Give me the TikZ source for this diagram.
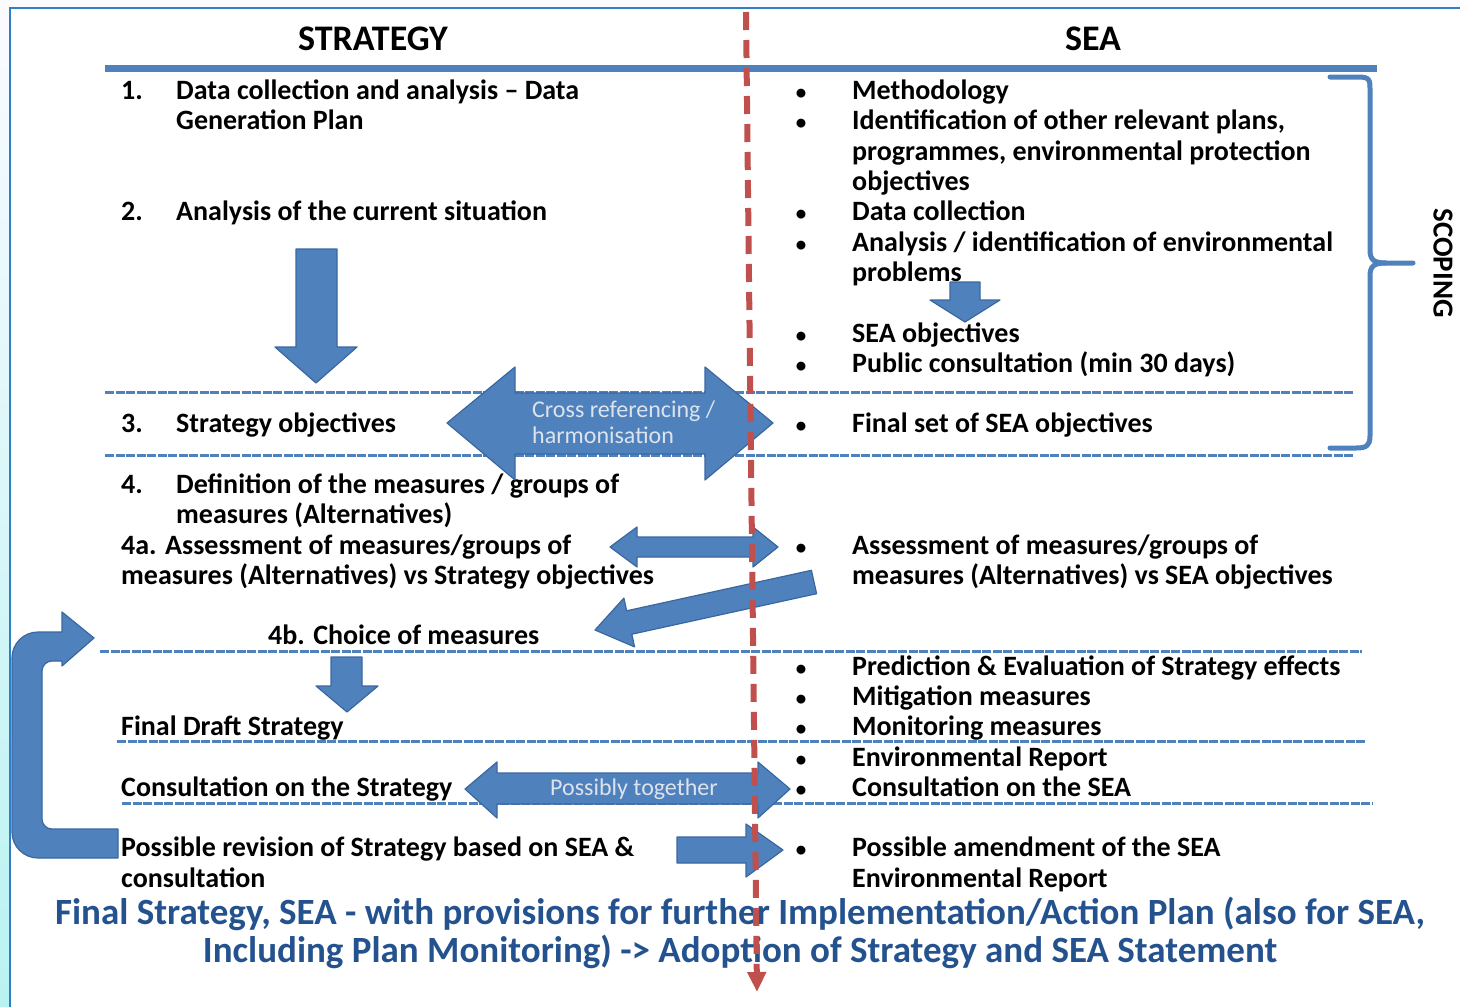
\documentclass[tikz,border=0pt]{standalone}
\usepackage{fontspec}
\setmainfont{Carlito}
\usetikzlibrary{arrows.meta}
\definecolor{sblue}{HTML}{4F81BD}
\definecolor{sbluedk}{HTML}{3A67A0}
\definecolor{sred}{HTML}{C0504D}
\definecolor{frameblue}{HTML}{2F7FC8}
\definecolor{navy}{HTML}{24528F}
\definecolor{arrowtxt}{HTML}{DCE3ED}
\newcommand\lineat[4]{\node[body] (#1) at (#2,#3) {#4};}
\newcommand\bulat[2]{\node[bul] (#1) at (801,#2) {•};}
\begin{document}
\begin{tikzpicture}[x=1pt,y=-1pt,
  body/.style={anchor=base west, inner sep=0pt, font=\fontsize{28}{30}\selectfont\bfseries},
  bul/.style={anchor=base, inner sep=0pt, font=\fontsize{21}{24}\selectfont\bfseries},
  heading/.style={anchor=base, inner sep=0pt, font=\fontsize{36}{40}\selectfont\bfseries},
  blockarrow/.style={fill=sblue, draw=sbluedk, line width=1.2pt, line join=round},
  sep/.style={draw=sblue, line width=3pt, dash pattern=on 9pt off 1.5pt},
  arrowlabel/.style={anchor=base west, inner sep=0pt, text=arrowtxt, font=\fontsize{24}{26}\selectfont},
  closing/.style={anchor=base, inner sep=0pt, text=navy, font=\fontsize{37}{38}\selectfont\bfseries},
  reddash/.style={draw=sred, line width=6pt, dash pattern=on 18pt off 10pt},
  bracestyle/.style={draw=sblue, line width=5pt, line cap=round, line join=round}]
\useasboundingbox (0,0) rectangle (1460,1007);

% page background and frame
\shade[top color=white!92!blue!20, bottom color=cyan!25!white!90!gray] (0,0) rectangle (1460,1007);
\fill[white] (10,8) rectangle (1460,1007);
\draw[frameblue, line width=2pt] (10,1010) -- (10,8) -- (1465,8);

% column headings
\node[heading] (hstrat) at (373,50) {STRATEGY};
\node[heading] (hsea) at (1093,50) {SEA};
\draw[sblue, line width=7pt] (105,68) -- (1377,68);

% separators
\draw[sep] (105,392) -- (1353,392);
\draw[sep] (105,455) -- (1353,455);
\draw[sep] (100,651) -- (1362,651);
\draw[sep] (117,741) -- (1365,741);
\draw[sep] (122,803) -- (1372,803);

% scoping brace
\draw[bracestyle] (1330,77) -- (1358,77) .. controls (1370,77) and (1370,80) .. (1370,90)
  -- (1370,250) .. controls (1370,260) and (1374,263) .. (1386,263) -- (1413,263);
\draw[bracestyle] (1386,263) .. controls (1374,263) and (1370,266) .. (1370,276)
  -- (1370,436) .. controls (1370,446) and (1366,448) .. (1356,448) -- (1330,448);
\node[inner sep=0pt, rotate=-90, font=\fontsize{29}{30}\selectfont\bfseries] (scoping) at (1443,263) {SCOPING};

% strategy column
\lineat{n1}{121}{99}{1.}
\lineat{t1a}{176}{99}{Data collection and analysis – Data}
\lineat{t1b}{176}{129}{Generation Plan}
\lineat{n2}{121}{220}{2.}
\lineat{t2}{176}{220}{Analysis of the current situation}
\lineat{n3}{121}{432}{3.}
\lineat{t3}{176}{432}{Strategy objectives}
\lineat{n4}{121}{493}{4.}
\lineat{t4a}{176}{493}{Definition of the measures / groups of}
\lineat{t4b}{176}{523}{measures (Alternatives)}
\lineat{t4aa}{121}{554}{4a. Assessment of measures/groups of}
\lineat{t4ab}{121}{584}{measures (Alternatives) vs Strategy objectives}
\lineat{t4c}{268}{644}{4b. Choice of measures}
\lineat{tfd}{121}{735}{Final Draft Strategy}
\lineat{tcs}{121}{796}{Consultation on the Strategy}
\lineat{trva}{121}{856}{Possible revision of Strategy based on SEA \&}
\lineat{trvb}{121}{887}{consultation}

% SEA column
\bulat{b1}{99}   \lineat{s1}{852}{99}{Methodology}
\bulat{b2}{129}  \lineat{s2a}{852}{129}{Identification of other relevant plans,}
                 \lineat{s2b}{852}{160}{programmes, environmental protection}
                 \lineat{s2c}{852}{190}{objectives}
\bulat{b3}{220}  \lineat{s3}{852}{220}{Data collection}
\bulat{b4}{251}  \lineat{s4a}{852}{251}{Analysis / identification of environmental}
                 \lineat{s4b}{852}{281}{problems}
\bulat{b5}{342}  \lineat{s5}{852}{342}{SEA objectives}
\bulat{b6}{372}  \lineat{s6}{852}{372}{Public consultation (min 30 days)}
\bulat{b7}{432}  \lineat{s7}{852}{432}{Final set of SEA objectives}
\bulat{b8}{554}  \lineat{s8a}{852}{554}{Assessment of measures/groups of}
                 \lineat{s8b}{852}{584}{measures (Alternatives) vs SEA objectives}
\bulat{b9}{675}  \lineat{s9}{852}{675}{Prediction \& Evaluation of Strategy effects}
\bulat{b10}{705} \lineat{s10}{852}{705}{Mitigation measures}
\bulat{b11}{735} \lineat{s11}{852}{735}{Monitoring measures}
\bulat{b12}{766} \lineat{s12}{852}{766}{Environmental Report}
\bulat{b13}{796} \lineat{s13}{852}{796}{Consultation on the SEA}
\bulat{b14}{856} \lineat{s14a}{852}{856}{Possible amendment of the SEA}
                 \lineat{s14b}{852}{887}{Environmental Report}

% block arrows
\path[blockarrow] (296,249) -- (337,249) -- (337,347) -- (357,347) -- (316,383)
  -- (275,347) -- (296,347) -- cycle;
\path[blockarrow] (950,282) -- (980,282) -- (980,300) -- (1000,300) -- (965,322)
  -- (930,300) -- (950,300) -- cycle;
\path[blockarrow] (447,423) -- (515,367) -- (515,393) -- (705,393) -- (705,367)
  -- (773,423) -- (705,480) -- (705,454) -- (515,454) -- (515,480) -- cycle;
\path[blockarrow] (610,547) -- (637,527) -- (637,537) -- (753,537) -- (753,527)
  -- (778,547) -- (753,567) -- (753,557) -- (637,557) -- (637,567) -- cycle;
\path[blockarrow] (811.4,570.3) -- (816.6,593.7) -- (631.8,634.2) -- (634.6,646.9)
  -- (595,630) -- (623.9,598.1) -- (626.6,610.8) -- cycle;
\path[blockarrow] (331,657) -- (362,657) -- (362,686) -- (378,686) -- (347,712)
  -- (316,686) -- (331,686) -- cycle;
\path[blockarrow] (465,789) -- (497,762) -- (497,773) -- (758,773) -- (758,762)
  -- (790,789) -- (758,818) -- (758,804) -- (497,804) -- (497,818) -- cycle;
\path[blockarrow] (677,837) -- (746,837) -- (746,824) -- (783,850) -- (746,877)
  -- (746,863) -- (677,863) -- cycle;
\path[blockarrow] (118,829) [rounded corners=10pt]-- (42,829) -- (42,661)
  [sharp corners]-- (62,661) -- (62,666) -- (94,638) -- (62,612) -- (62,632)
  [rounded corners=26pt]-- (12,632) -- (12,858) [sharp corners]-- (118,858) -- cycle;

\node[arrowlabel] (cross1) at (532,417) {Cross referencing /};
\node[arrowlabel] (cross2) at (532,443) {harmonisation};
\node[arrowlabel] (together) at (550,795) {Possibly together};

% closing statement
\node[closing] (fin1) at (740,924)
  {Final Strategy, SEA - with provisions for further Implementation/Action Plan (also for SEA,};
\node[closing] (fin2) at (740,962)
  {Including Plan Monitoring) -> Adoption of Strategy and SEA Statement};

% dividing line between the two processes
\coordinate (rtop) at (746,12);
\coordinate (rbot) at (757,992);
\draw[reddash, -{Triangle[length=20pt,width=18pt]}] (rtop) -- (rbot);
\end{tikzpicture}
\end{document}
